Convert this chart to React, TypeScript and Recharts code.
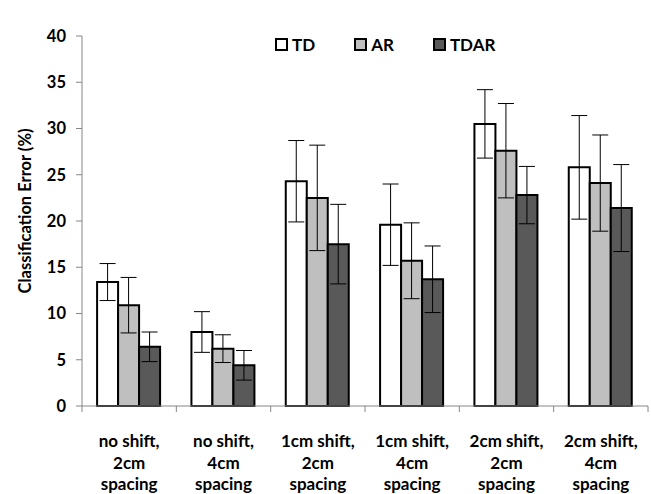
import { BarChart, Bar, XAxis, YAxis, ErrorBar, Legend } from 'recharts'

const categories = [
  'no shift,|2cm|spacing',
  'no shift,|4cm|spacing',
  '1cm shift,|2cm|spacing',
  '1cm shift,|4cm|spacing',
  '2cm shift,|2cm|spacing',
  '2cm shift,|4cm|spacing',
]
const tdValues = [13.4, 8.0, 24.3, 19.6, 30.5, 25.8]
const tdErrors = [2.0, 2.2, 4.4, 4.4, 3.7, 5.6]
const arValues = [10.9, 6.2, 22.5, 15.7, 27.6, 24.1]
const arErrors = [3.0, 1.5, 5.7, 4.1, 5.1, 5.2]
const tdarValues = [6.4, 4.4, 17.5, 13.7, 22.8, 21.4]
const tdarErrors = [1.6, 1.6, 4.3, 3.6, 3.1, 4.7]
const yTicks = [0, 5, 10, 15, 20, 25, 30, 35, 40]

const data = categories.map((c, i) => ({
  name: c,
  td: tdValues[i],
  tdErr: tdErrors[i],
  ar: arValues[i],
  arErr: arErrors[i],
  tdar: tdarValues[i],
  tdarErr: tdarErrors[i],
}))

const legendItems = [
  { label: 'TD', color: '#FFFFFF' },
  { label: 'AR', color: '#BFBFBF' },
  { label: 'TDAR', color: '#595959' },
]

const font = 'Lato, "Open Sans", sans-serif'

function CategoryTick(props: any) {
  const { x, y, payload, index } = props
  const half = payload?.offset ?? 47
  const lines = String(payload.value).split('|')
  return (
    <g>
      <line x1={x - half} y1={y - 8} x2={x - half} y2={y - 2} stroke="#868686" />
      {index === categories.length - 1 && (
        <line x1={x + half} y1={y - 8} x2={x + half} y2={y - 2} stroke="#868686" />
      )}
      <text
        x={x}
        y={y}
        textAnchor="middle"
        fontFamily={font}
        fontWeight="bold"
        fontSize={17}
        fill="#000"
      >
        {lines.map((l, i) => (
          <tspan key={i} x={x} dy={i === 0 ? 33 : 21.7}>
            {l}
          </tspan>
        ))}
      </text>
    </g>
  )
}

function LegendContent() {
  return (
    <div style={{ display: 'flex', fontFamily: font, fontWeight: 'bold', fontSize: 17 }}>
      {legendItems.map((it) => (
        <div key={it.label} style={{ display: 'flex', alignItems: 'center', marginRight: 39 }}>
          <span
            style={{
              display: 'inline-block',
              width: 9,
              height: 9,
              border: '2px solid #000',
              background: it.color,
              marginRight: 4,
            }}
          />
          <span>{it.label}</span>
        </div>
      ))}
    </div>
  )
}

export default function App() {
  return (
    <div style={{ position: 'fixed', left: 0, top: 0, background: '#fff' }}>
      <BarChart
        width={651}
        height={494}
        data={data}
        margin={{ top: 15, right: 3, left: 22, bottom: 8 }}
        barCategoryGap="16%"
        barGap={0}
      >
        <XAxis
          dataKey="name"
          height={80}
          axisLine={{ stroke: '#868686' }}
          tickLine={false}
          tick={<CategoryTick />}
          interval={0}
        />
        <YAxis
          width={60}
          domain={[0, 40]}
          ticks={yTicks}
          axisLine={{ stroke: '#868686' }}
          tickLine={{ stroke: '#868686' }}
          tickSize={6}
          tickMargin={10}
          tick={{ fontFamily: font, fontWeight: 'bold', fontSize: 16.5, fill: '#000' }}
          label={{
            value: 'Classification Error (%)',
            angle: -90,
            position: 'insideLeft',
            dx: -2,
            dy: -10,
            style: { fontFamily: font, fontWeight: 'bold', fontSize: 16.5, fill: '#000', textAnchor: 'middle' },
          }}
        />
        <Legend
          verticalAlign="top"
          content={<LegendContent />}
          wrapperStyle={{ position: 'absolute', top: 34, left: 275, width: 320 }}
        />
        <Bar dataKey="td" fill="#FFFFFF" stroke="#000" strokeWidth={2} isAnimationActive={false}>
          <ErrorBar dataKey="tdErr" width={8} stroke="#000" strokeWidth={1} />
        </Bar>
        <Bar dataKey="ar" fill="#BFBFBF" stroke="#000" strokeWidth={2} isAnimationActive={false}>
          <ErrorBar dataKey="arErr" width={8} stroke="#000" strokeWidth={1} />
        </Bar>
        <Bar dataKey="tdar" fill="#595959" stroke="#000" strokeWidth={2} isAnimationActive={false}>
          <ErrorBar dataKey="tdarErr" width={8} stroke="#000" strokeWidth={1} />
        </Bar>
      </BarChart>
    </div>
  )
}
